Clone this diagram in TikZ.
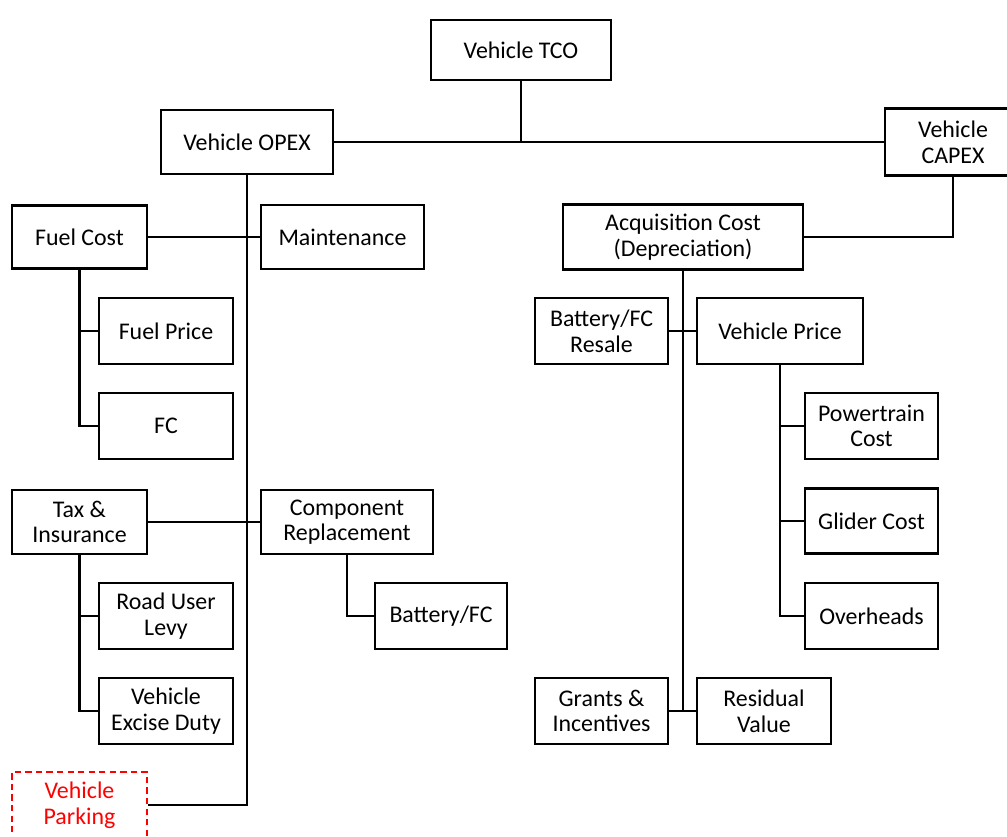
\documentclass[tikz,border=0pt]{standalone}
\usepackage{fontspec}
\setmainfont{Carlito}
\usepackage{tikz}
\usetikzlibrary{positioning}

\begin{document}
\begin{tikzpicture}[x=0.02cm,y=-0.02cm,
    box/.style={draw,line width=1.4pt,align=center,inner sep=0pt,font=\fontsize{13.6}{14.6}\selectfont},
    wire/.style={line width=1.4pt}]
    \useasboundingbox (0,0) rectangle (1007,837);
    % top level
    \node[box,minimum width=3.6cm,minimum height=1.2cm] (tco) at (521,50) {Vehicle TCO};
    \node[box,minimum width=3.44cm,minimum height=1.28cm] (opex) at (247,142) {Vehicle OPEX};
    \node[box,minimum width=2.72cm,minimum height=1.34cm] (capex) at (953,142) {Vehicle\\CAPEX};
    % opex side
    \node[box,minimum width=2.7cm,minimum height=1.26cm] (fuel) at (79.5,237) {Fuel Cost};
    \node[box,minimum width=3.26cm,minimum height=1.28cm] (maint) at (342.5,237) {Maintenance};
    \node[box,minimum width=2.68cm,minimum height=1.32cm] (fprice) at (166,331) {Fuel Price};
    \node[box,minimum width=2.68cm,minimum height=1.32cm] (fc) at (166,426) {FC};
    \node[box,minimum width=2.7cm,minimum height=1.28cm] (tax) at (79.5,522) {Tax \&\\Insurance};
    \node[box,minimum width=3.44cm,minimum height=1.28cm] (comp) at (347,522) {Component\\Replacement};
    \node[box,minimum width=2.68cm,minimum height=1.32cm] (road) at (166,616) {Road User\\Levy};
    \node[box,minimum width=2.68cm,minimum height=1.32cm] (excise) at (166,711) {Vehicle\\Excise Duty};
    \node[box,minimum width=2.64cm,minimum height=1.32cm] (batt) at (441,616) {Battery/FC};
    \node[box,red,text=red,dash pattern=on 3.6pt off 2.4pt,minimum width=2.7cm,minimum height=1.32cm] (park) at (79.5,805) {Vehicle\\Parking};
    % capex side
    \node[box,minimum width=4.8cm,minimum height=1.3cm] (acq) at (683,237) {Acquisition Cost\\(Depreciation)};
    \node[box,minimum width=2.66cm,minimum height=1.32cm] (resale) at (601.5,331) {Battery/FC\\Resale};
    \node[box,minimum width=3.32cm,minimum height=1.32cm] (vprice) at (780,331) {Vehicle Price};
    \node[box,minimum width=2.66cm,minimum height=1.32cm] (ptrain) at (871.5,426) {Powertrain\\Cost};
    \node[box,minimum width=2.66cm,minimum height=1.3cm] (glider) at (871.5,521) {Glider Cost};
    \node[box,minimum width=2.66cm,minimum height=1.32cm] (overh) at (871.5,616) {Overheads};
    \node[box,minimum width=2.66cm,minimum height=1.32cm] (grants) at (601.5,711) {Grants \&\\Incentives};
    \node[box,minimum width=2.68cm,minimum height=1.32cm] (resid) at (764,711) {Residual\\Value};
    % connectors
    \draw[wire] (tco.south) -- (tco.south |- opex.east);
    \draw[wire] (opex.east) -- (capex.west);
    \draw[wire] (opex.south) |- (park.east);
    \draw[wire] (fuel.east) -- (maint.west);
    \draw[wire] (tax.east) -- (comp.west);
    \draw[wire] (fuel.south) |- (fc.west);
    \draw[wire] (fuel.south |- fprice.west) -- (fprice.west);
    \draw[wire] (tax.south) |- (excise.west);
    \draw[wire] (tax.south |- road.west) -- (road.west);
    \draw[wire] (comp.south) |- (batt.west);
    \draw[wire] (capex.south) |- (acq.east);
    \draw[wire] (acq.south) -- (acq.south |- grants.east);
    \draw[wire] (resale.east) -- (vprice.west);
    \draw[wire] (grants.east) -- (resid.west);
    \draw[wire] (vprice.south) |- (overh.west);
    \draw[wire] (vprice.south |- ptrain.west) -- (ptrain.west);
    \draw[wire] (vprice.south |- glider.west) -- (glider.west);
\end{tikzpicture}
\end{document}
